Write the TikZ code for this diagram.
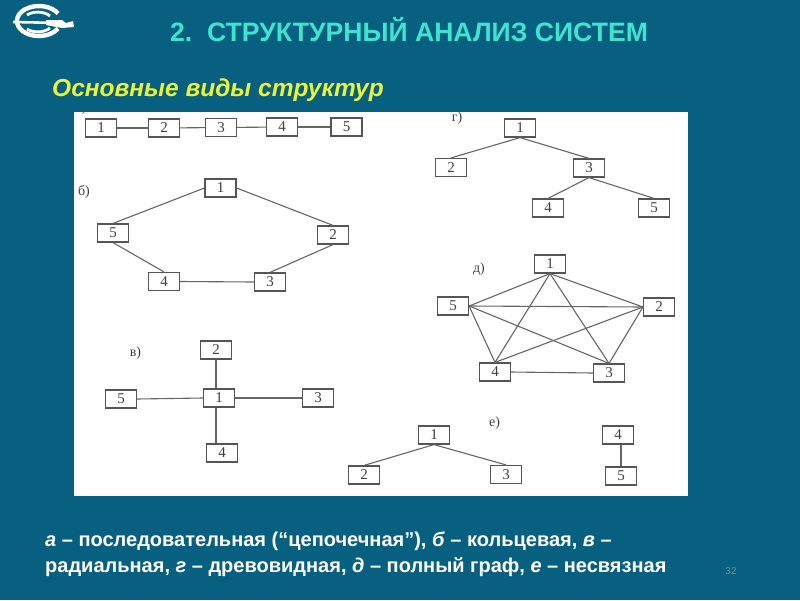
\documentclass[tikz,border=0pt]{standalone}
\usepackage{fontspec}
\setmainfont{Liberation Sans}
\newfontfamily\serifnum{Liberation Serif}
\definecolor{bgteal}{HTML}{07607F}
\definecolor{titlecol}{HTML}{3FE3D0}
\definecolor{subcol}{HTML}{E9F23C}
\definecolor{linecol}{HTML}{666666}
\definecolor{boxcol}{HTML}{555555}
\definecolor{numcol}{HTML}{5E8FA5}
\tikzset{
  bx/.style={draw=boxcol,fill=white,line width=1.2pt,minimum width=31pt,minimum height=18pt,inner sep=0pt,font=\serifnum\fontsize{15}{15}\selectfont,text=black!75},
  lk/.style={draw=linecol,line width=1.1pt},
  lab/.style={font=\serifnum\fontsize{14}{14}\selectfont,text=black!75,inner sep=0pt},
  captext/.style={anchor=base west,inner sep=0pt,text=white,font=\fontsize{20}{20}\selectfont\bfseries}
}
\begin{document}
\begin{tikzpicture}[x=1pt,y=-1pt]
\useasboundingbox (0,0) rectangle (800,600);
\fill[bgteal] (0,0) rectangle (800,600);
% logo
\draw[white,line width=4.4pt] (58,13.5) arc[start angle=30,end angle=330,x radius=22pt,y radius=15pt];
\draw[white,line width=2.8pt] (27,15) .. controls (33,11) and (44,11) .. (50,16);
\draw[white,line width=2.8pt] (27,29) .. controls (33,33) and (44,33) .. (50,28);
\draw[white,line width=2.6pt] (13,22) -- (60,23);
\fill[white] (46,20) -- (62,20) -- (66,23) -- (73,21) -- (74,27) -- (62,28) -- (46,25) -- cycle;
% panel
\fill[white] (74,112) rectangle (688,496);
\node[lab] (la) at (81,108) {а)};
\fill[bgteal] (74,95) rectangle (120,112);
% title
\node[anchor=base west,inner sep=0pt,text=titlecol,font=\fontsize{26.6}{26.6}\selectfont\bfseries] (title) at (170,41.5) {2.\ \ СТРУКТУРНЫЙ АНАЛИЗ СИСТЕМ};
\node[anchor=base west,inner sep=0pt,text=subcol,font=\fontsize{24.5}{24.5}\selectfont\bfseries\itshape] (sub) at (52,96) {Основные виды структур};
\node[lab] (lb) at (84,192) {б)};
\node[lab] (lv) at (135.5,353) {в)};
\node[lab] (lg) at (457,118) {г)};
\node[lab] (ld) at (479,269) {д)};
\node[lab] (le) at (494.5,423) {е)};
% a
\node[bx] (a1) at (101,128) {1};
\node[bx] (a2) at (164,128) {2};
\node[bx] (a3) at (221,127.5) {3};
\node[bx] (a4) at (282,127) {4};
\node[bx] (a5) at (346.5,127) {5};
\draw[lk] (a1) -- (a2);
\draw[lk] (a2) -- (a3);
\draw[lk] (a3) -- (a4);
\draw[lk] (a4) -- (a5);
% b
\node[bx] (b1) at (220.5,188) {1};
\node[bx] (b2) at (333,235) {2};
\node[bx] (b3) at (270,282) {3};
\node[bx] (b4) at (164,281.5) {4};
\node[bx] (b5) at (113,233) {5};
\draw[lk] (b1.west) -- (b5.north);
\draw[lk] (b1.east) -- (b2.north);
\draw[lk] (b2.south) -- (b3.north);
\draw[lk] (b3.west) -- (b4.east);
\draw[lk] (b4.north) -- (b5.south);
% v
\node[bx] (v1) at (219,398) {1};
\node[bx] (v2) at (216,350) {2};
\node[bx] (v3) at (318,398) {3};
\node[bx] (v4) at (222,453) {4};
\node[bx] (v5) at (121,399) {5};
\draw[lk] (v2.south) -- (v2.south |- v1.north);
\draw[lk] (v1.east) -- (v3.west);
\draw[lk] (v2.south |- v4.north) -- (v2.south |- v1.south);
\draw[lk] (v5.east) -- (v1.west);
% g
\node[bx] (g1) at (520,128) {1};
\node[bx] (g2) at (451,167.5) {2};
\node[bx] (g3) at (589,168) {3};
\node[bx] (g4) at (548,208) {4};
\node[bx] (g5) at (654,208) {5};
\draw[lk] (g1.south) -- (g2.north);
\draw[lk] (g1.south) -- (g3.north);
\draw[lk] (g3.south) -- (g4.north);
\draw[lk] (g3.south) -- (g5.north);
% d
\node[bx] (d1) at (550,264) {1};
\node[bx] (d2) at (659,307) {2};
\node[bx] (d3) at (609,373) {3};
\node[bx] (d4) at (495,372) {4};
\node[bx] (d5) at (453,306) {5};
\draw[lk] (d1.south) -- (d5.east);
\draw[lk] (d1.south) -- (d2.west);
\draw[lk] (d1.south) -- (d4.north);
\draw[lk] (d1.south) -- (d3.north);
\draw[lk] (d5.east) -- (d2.west);
\draw[lk] (d5.east) -- (d4.north);
\draw[lk] (d5.east) -- (d3.north);
\draw[lk] (d2.west) -- (d4.north);
\draw[lk] (d2.west) -- (d3.north);
\draw[lk] (d4.east) -- (d3.west);
% e
\node[bx] (e1) at (434,435) {1};
\node[bx] (e2) at (364,475) {2};
\node[bx] (e3) at (506,474.5) {3};
\node[bx] (e4) at (618,435) {4};
\node[bx] (e5) at (621,476) {5};
\draw[lk] (e1.south) -- (e2.north);
\draw[lk] (e1.south) -- (e3.north);
\draw[lk] (e5.north) -- (e5.north |- e4.south);
% caption
\node[captext] (c1) at (45,546) {\textit{а} – последовательная (“цепочечная”), \textit{б} – кольцевая, \textit{в} –};
\node[captext] (c2) at (45,572) {радиальная, \textit{г} – древовидная, \textit{д} – полный граф, \textit{е} – несвязная};
\node[anchor=base,inner sep=0pt,text=numcol,font=\fontsize{10}{10}\selectfont] (pg) at (731,574) {32};
\end{tikzpicture}
\end{document}
